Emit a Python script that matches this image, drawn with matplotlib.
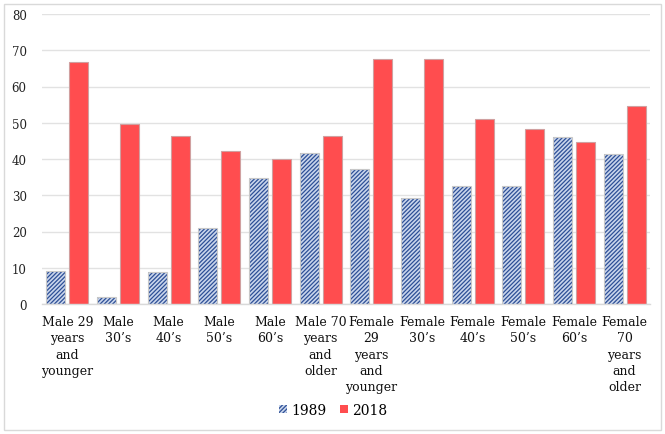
import matplotlib
matplotlib.use("Agg")
import matplotlib.pyplot as plt
import matplotlib.patches as mpatches
import numpy as np

categories = ["Male 29\nyears\nand\nyounger", "Male\n30\u2019s", "Male\n40\u2019s", "Male\n50\u2019s",
              "Male\n60\u2019s", "Male 70\nyears\nand\nolder", "Female\n29\nyears\nand\nyounger",
              "Female\n30\u2019s", "Female\n40\u2019s", "Female\n50\u2019s", "Female\n60\u2019s",
              "Female\n70\nyears\nand\nolder"]
series_names = ["1989", "2018"]
values_1989 = [9.0, 1.9, 8.7, 20.9, 34.8, 41.6, 37.2, 29.2, 32.6, 32.5, 46.1, 41.5]
values_2018 = [66.7, 49.7, 46.4, 42.3, 40.1, 46.4, 67.5, 67.5, 51.0, 48.4, 44.8, 54.7]
yticks = [0, 10, 20, 30, 40, 50, 60, 70, 80]

plt.rcParams['font.family'] = ['DejaVu Serif']
plt.rcParams['hatch.linewidth'] = 0.9

fig = plt.figure(figsize=(6.65, 4.35), dpi=100)
ax = fig.add_axes([42/665, 1-305/435, (650-42)/665, (305-15)/435])

x = np.arange(len(categories))
w = 0.375
off = 0.227
blue_dark = '#2d4f96'
blue_face = '#c9d5ec'
red = '#ff4d4f'

ax.bar(x - off, values_1989, w, color=blue_face, edgecolor=blue_dark, hatch='////////', linewidth=0, zorder=2)
ax.bar(x - off, values_1989, w, fill=False, edgecolor='#c8c8c8', linewidth=0.8, zorder=3)
ax.bar(x + off, values_2018, w, color=red, edgecolor='#d0a0a0', linewidth=0.8, zorder=2)

ax.set_ylim(0, 80)
ax.set_xlim(-0.5, len(categories) - 0.5)
ax.set_yticks(yticks)
ax.set_xticks(x)
ax.set_xticklabels(categories, fontsize=9, linespacing=1.32)
ax.tick_params(axis='y', labelsize=8.5, length=0, pad=11, colors='#222222')
ax.tick_params(axis='x', length=0, pad=8, colors='#111111')
ax.grid(axis='y', color='#e2e2e2', linewidth=1.0, zorder=0)
ax.set_axisbelow(True)
for s in ['top', 'right', 'left']:
    ax.spines[s].set_visible(False)
ax.spines['bottom'].set_color('#d9d9d9')
ax.spines['bottom'].set_linewidth(1.0)

h1 = mpatches.Patch(facecolor=blue_face, edgecolor=blue_dark, hatch='////////', linewidth=0)
h2 = mpatches.Patch(facecolor=red, edgecolor=red, linewidth=0)
fig.legend([h1, h2], series_names, loc='center', bbox_to_anchor=(333/665, 1-411/435),
           ncol=2, frameon=False, fontsize=10, handlelength=0.55, handleheight=0.55,
           handletextpad=0.3, columnspacing=1.0)

fig.add_artist(mpatches.Rectangle((4/665, 4/435), 657/665, 426/435, transform=fig.transFigure,
                                  fill=False, edgecolor='#d9d9d9', linewidth=1.0))

fig.savefig('out.png', dpi=100)
